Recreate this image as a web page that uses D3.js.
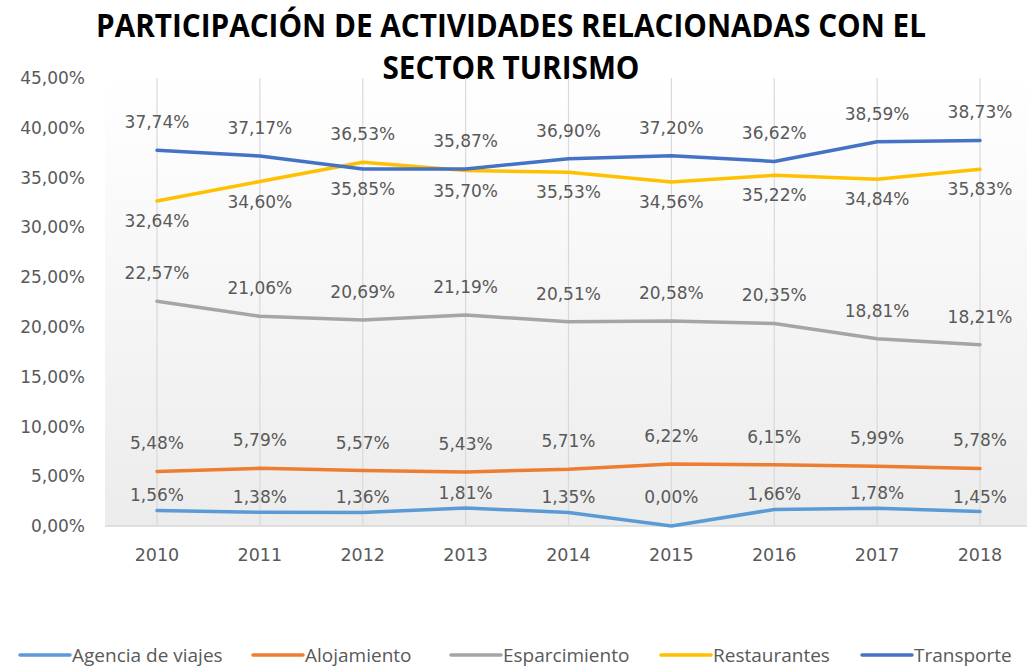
<!DOCTYPE html>
<html>
  <head>
    <meta charset="utf-8">
    <title>Participación de actividades</title>
    <script src="https://cdnjs.cloudflare.com/ajax/libs/d3/7.8.5/d3.min.js"></script>
    <style>
      body { margin: 0; background: #fff; }
      text { font-family: "DejaVu Sans", sans-serif; }
    </style>
  </head>
  <body>
    <script>

      // data
      var years = ["2010", "2011", "2012", "2013", "2014", "2015", "2016", "2017", "2018"];
      var agencia       = [1.56, 1.38, 1.36, 1.81, 1.35, 0.00, 1.66, 1.78, 1.45];
      var alojamiento   = [5.48, 5.79, 5.57, 5.43, 5.71, 6.22, 6.15, 5.99, 5.78];
      var esparcimiento = [22.57, 21.06, 20.69, 21.19, 20.51, 20.58, 20.35, 18.81, 18.21];
      var restaurantes  = [32.64, 34.60, 36.53, 35.70, 35.53, 34.56, 35.22, 34.84, 35.83];
      var transporte    = [37.74, 37.17, 35.85, 35.87, 36.90, 37.20, 36.62, 38.59, 38.73];
      var yTicks = [0, 5, 10, 15, 20, 25, 30, 35, 40, 45];
      var titleLines = ["PARTICIPACIÓN DE ACTIVIDADES RELACIONADAS CON EL", "SECTOR TURISMO"];

      var series = [
        { name: "Agencia de viajes", values: agencia,       color: "#5b9bd5" },
        { name: "Alojamiento",       values: alojamiento,   color: "#ed7d31" },
        { name: "Esparcimiento",     values: esparcimiento, color: "#a5a5a5" },
        { name: "Restaurantes",      values: restaurantes,  color: "#ffc000" },
        { name: "Transporte",        values: transporte,    color: "#4472c4" }
      ];

      var width = 1027, height = 668;
      var plot = { left: 105, right: 1032, top: 78, bottom: 526 };

      var svg = d3.select("body").append("svg")
        .attr("width", width)
        .attr("height", height);

      var xScale = d3.scalePoint().domain(years).range([157, 980]);
      var yScale = d3.scaleLinear().domain([0, 45]).range([plot.bottom, plot.top]);

      function fmt(v) { return v.toFixed(2).replace(".", ",") + "%"; }

      // plot area background
      var grad = svg.append("defs").append("linearGradient")
        .attr("id", "bg").attr("x1", 0).attr("y1", 0).attr("x2", 0).attr("y2", 1);
      grad.append("stop").attr("offset", "0%").attr("stop-color", "#ffffff");
      grad.append("stop").attr("offset", "100%").attr("stop-color", "#ececec");
      svg.append("rect")
        .attr("x", plot.left).attr("y", plot.top)
        .attr("width", plot.right - plot.left).attr("height", plot.bottom - plot.top)
        .attr("fill", "url(#bg)");

      // title
      svg.selectAll("text.title").data(titleLines).enter().append("text")
        .attr("class", "title")
        .attr("x", 511)
        .attr("y", function (d, i) { return 37 + i * 42; })
        .attr("text-anchor", "middle")
        .attr("textLength", function (d, i) { return i === 0 ? 830 : 257; })
        .attr("lengthAdjust", "spacingAndGlyphs")
        .style("font-family", "'Liberation Sans Narrow', 'Open Sans', sans-serif")
        .style("font-weight", "bold")
        .style("font-size", "33px")
        .style("fill", "#000")
        .text(function (d) { return d; });

      // vertical gridlines
      svg.selectAll("line.grid").data(years).enter().append("line")
        .attr("class", "grid")
        .attr("x1", function (d) { return xScale(d); })
        .attr("x2", function (d) { return xScale(d); })
        .attr("y1", plot.top).attr("y2", plot.bottom)
        .attr("stroke", "#d9d9d9").attr("stroke-width", 1.2);

      // x axis line
      svg.append("line")
        .attr("x1", plot.left).attr("x2", plot.right)
        .attr("y1", plot.bottom).attr("y2", plot.bottom)
        .attr("stroke", "#d9d9d9").attr("stroke-width", 1.5);

      // y tick labels
      svg.selectAll("text.ytick").data(yTicks).enter().append("text")
        .attr("class", "ytick")
        .attr("x", 85)
        .attr("y", function (d) { return yScale(d); })
        .attr("dy", "0.36em")
        .attr("text-anchor", "end")
        .style("font-size", "17px")
        .style("fill", "#595959")
        .text(fmt);

      // x tick labels
      svg.selectAll("text.xtick").data(years).enter().append("text")
        .attr("class", "xtick")
        .attr("x", function (d) { return xScale(d); })
        .attr("y", 561)
        .attr("text-anchor", "middle")
        .style("font-size", "17.5px")
        .style("fill", "#595959")
        .text(function (d) { return d; });

      // lines
      var line = d3.line()
        .x(function (d, i) { return xScale(years[i]); })
        .y(function (d) { return yScale(d); });

      svg.selectAll("path.series").data(series).enter().append("path")
        .attr("class", "series")
        .attr("d", function (s) { return line(s.values); })
        .attr("fill", "none")
        .attr("stroke", function (s) { return s.color; })
        .attr("stroke-width", 3.5)
        .attr("stroke-linejoin", "round")
        .attr("stroke-linecap", "round");

      // data labels
      function labelY(s, v, i) {
        var y = yScale(v);
        if (s.name === "Agencia de viajes") return Math.min(y - 9, yScale(0) - 23);
        if (s.name === "Restaurantes" || s.name === "Transporte") {
          var other = s.name === "Restaurantes" ? transporte[i] : restaurantes[i];
          return v >= other ? y - 22 : y + 26;
        }
        return y - 22;
      }

      series.forEach(function (s) {
        svg.append("g").selectAll("text").data(s.values).enter().append("text")
          .attr("x", function (d, i) { return xScale(years[i]); })
          .attr("y", function (d, i) { return labelY(s, d, i); })
          .attr("text-anchor", "middle")
          .style("font-size", "17px")
          .style("fill", "#595959")
          .text(fmt);
      });

      // legend
      var legendX = [20, 253, 451, 661, 862];
      var legend = svg.selectAll("g.legend").data(series).enter().append("g")
        .attr("class", "legend")
        .attr("transform", function (d, i) { return "translate(" + legendX[i] + ",655)"; });
      legend.append("line")
        .attr("x1", 0).attr("x2", 50).attr("y1", 0).attr("y2", 0)
        .attr("stroke", function (d) { return d.color; })
        .attr("stroke-width", 3.5)
        .attr("stroke-linecap", "round");
      legend.append("text")
        .attr("x", 52)
        .attr("y", 7)
        .style("font-family", "'Liberation Sans Narrow', 'Open Sans', sans-serif")
        .style("font-size", "19px")
        .style("fill", "#595959")
        .text(function (d) { return d.name; });

    </script>
  </body>
</html>
